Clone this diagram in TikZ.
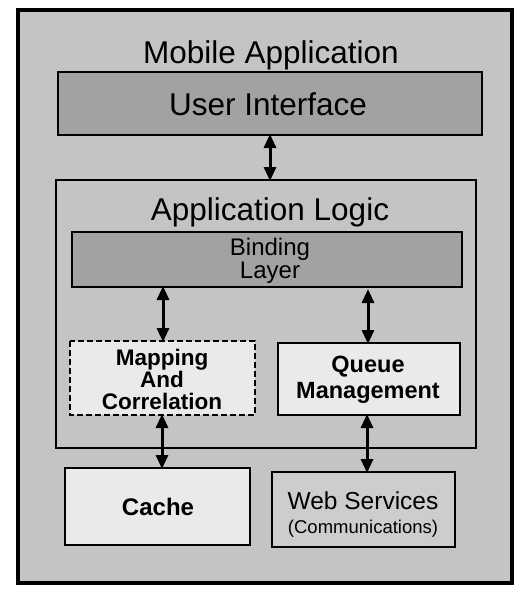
\documentclass[tikz,border=0pt]{standalone}
\usepackage{fontspec}
\setmainfont{Liberation Sans}
\usetikzlibrary{arrows.meta}
\definecolor{bgfill}{HTML}{C4C4C4}
\definecolor{darkfill}{HTML}{A2A2A2}
\definecolor{lightfill}{HTML}{EAEAEA}
\definecolor{webfill}{HTML}{CDCDCD}
\begin{document}
\begin{tikzpicture}[x=1pt,y=-1pt,
  box/.style={draw=black,line width=1.8pt},
  lbl/.style={align=center,inner sep=0pt},
  big/.style={lbl,font=\fontsize{31.5}{33}\selectfont},
  mid/.style={lbl,font=\fontsize{24}{25}\selectfont},
  link/.style={line width=3pt,{Triangle[width=12pt,length=14pt]}-{Triangle[width=12pt,length=14pt]},shorten <=-1pt,shorten >=-1pt}]
\useasboundingbox (0,0) rectangle (520,591);
\fill[white] (0,0) rectangle (520,591);
% outer frame
\draw[line width=3.5pt,fill=bgfill] (18,10) rectangle (512,583);
\node[big] (title) at (271,55) {Mobile Application};
% user interface
\draw[box,fill=darkfill] (58,72) rectangle (482,135);
\coordinate (uiS) at (270,135);
\node[big] (ui) at (268,104) {User Interface};
% application logic
\draw[box] (56,180) rectangle (476,448);
\coordinate (alN) at (270,180);
\node[big] (al) at (270,212) {Application Logic};
% binding layer
\draw[box,fill=darkfill] (72,232) rectangle (462,287);
\node[mid] (bind) at (270,261) {Binding\\[-2pt]Layer};
\coordinate (bL) at (163,287);
\coordinate (bR) at (368,290);
% mapping
\draw[line width=1.8pt,dash pattern=on 6pt off 3pt,fill=lightfill] (70,341) rectangle (255,415);
\node[lbl,font=\bfseries\fontsize{22.5}{24}\selectfont] (map) at (162,379) {Mapping\\[-2pt]And\\[-2pt]Correlation};
\coordinate (mN) at (163,341);
\coordinate (mS) at (162,415);
% queue
\draw[box,fill=lightfill] (278,343) rectangle (460,415);
\node[lbl,font=\bfseries\fontsize{23.5}{26}\selectfont] (queue) at (368,380) {Queue\\Management};
\coordinate (qN) at (368,343);
\coordinate (qS) at (367,415);
% cache
\draw[box,fill=lightfill] (65,468) rectangle (250,545);
\node[lbl,font=\bfseries\fontsize{24}{26}\selectfont] (cache) at (158,507) {Cache};
\coordinate (cN) at (162,468);
% web services
\draw[box,fill=webfill] (272,472) rectangle (455,547);
\node[lbl,font=\fontsize{24.5}{26}\selectfont] (web) at (363,501) {Web Services};
\node[lbl,font=\fontsize{18.5}{20}\selectfont] (comm) at (363,529) {(Communications)};
\coordinate (wN) at (367,472);
% connectors
\draw[link] (uiS) -- (alN);
\draw[link] (bL) -- (mN);
\draw[link] (bR) -- (qN);
\draw[link] (mS) -- (cN);
\draw[link] (qS) -- (wN);
\end{tikzpicture}
\end{document}
